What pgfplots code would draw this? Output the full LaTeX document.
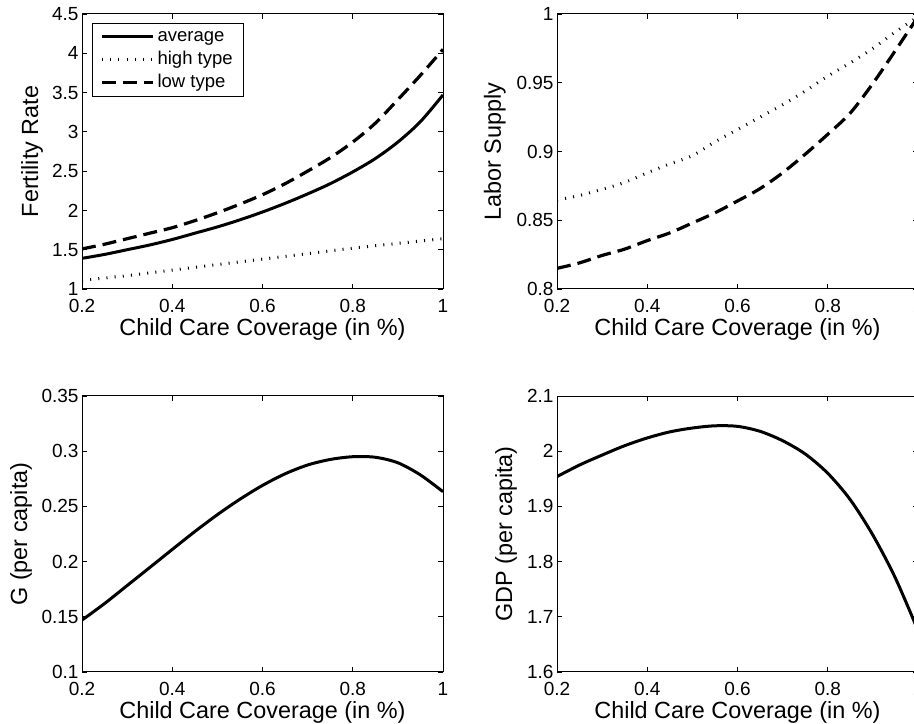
\documentclass[border=0pt]{standalone}
\usepackage{fontspec}
\setmainfont{Liberation Sans}
\usepackage{pgfplots}
\pgfplotsset{compat=1.18}

\pgfplotsset{
  panel/.style={
    scale only axis,
    width=361bp, height=275bp,
    anchor=south west,
    xmin=0.2, xmax=1,
    xtick={0.2,0.4,0.6,0.8,1},
    tick align=inside, tick pos=both,
    major tick length=5bp,
    axis line style={line width=1bp},
    every tick/.style={line width=0.8bp, black},
    /pgf/number format/assume math mode=true,
    tick label style={font=\fontsize{19bp}{22bp}\selectfont},
    xticklabel style={anchor=base, yshift=-24bp},
    label style={font=\fontsize{23.4bp}{28bp}\selectfont},
    xlabel={Child Care Coverage (in \%)},
    xlabel style={at={(axis description cs:0.5,-0.168)}, anchor=base},
  },
  avg/.style={black, line width=3bp},
  hi/.style={black, line width=3bp, dash pattern=on 1bp off 7.2bp},
  lo/.style={black, line width=3.2bp, dash pattern=on 14bp off 7bp},
}

\begin{document}
\begin{tikzpicture}

% Fertility
\begin{axis}[panel, at={(82bp,435bp)},
    ymin=1, ymax=4.5, ytick={1,1.5,...,4.5},
    ylabel={Fertility Rate},
    ylabel style={at={(axis description cs:-0.1385,0.5)}, anchor=center},
    legend cell align=left,
    legend image code/.code={\draw[#1] (0bp,0bp) -- (51bp,0bp);},
    legend style={at={(axis description cs:0,1)}, anchor=north west,
      xshift=10bp, yshift=-9bp, draw=black, line width=0.8bp,
      inner xsep=8bp, inner ysep=2bp,
      font=\fontsize{18.5bp}{22bp}\selectfont,
      nodes={inner sep=3bp, text height=13.5bp, text depth=3.5bp}},
]
\addplot[avg, smooth] coordinates {
  (0.2,1.39) (0.25,1.44) (0.3,1.50) (0.35,1.56) (0.4,1.63) (0.45,1.71)
  (0.5,1.79) (0.55,1.88) (0.6,1.98) (0.65,2.09) (0.7,2.21) (0.75,2.34)
  (0.8,2.49) (0.85,2.66) (0.9,2.87) (0.95,3.13) (1.0,3.47)
};
\addlegendentry{average}
\addplot[hi, smooth] coordinates {
  (0.2,1.11) (0.3,1.17) (0.4,1.24) (0.5,1.31) (0.6,1.38) (0.7,1.45)
  (0.8,1.52) (0.9,1.58) (1.0,1.64)
};
\addlegendentry{high type}
\addplot[lo, smooth] coordinates {
  (0.2,1.51) (0.25,1.57) (0.3,1.64) (0.35,1.71) (0.4,1.78) (0.45,1.87)
  (0.5,1.97) (0.55,2.08) (0.6,2.20) (0.65,2.34) (0.7,2.50) (0.75,2.67)
  (0.8,2.87) (0.85,3.11) (0.9,3.41) (0.95,3.72) (1.0,4.05)
};
\addlegendentry{low type}
\end{axis}

% Labor supply
\begin{axis}[panel, at={(557bp,435bp)},
    ymin=0.8, ymax=1, ytick={0.8,0.85,0.9,0.95,1},
    ylabel={Labor Supply},
    ylabel style={at={(axis description cs:-0.172,0.5)}, anchor=center},
]
\addplot[hi, smooth] coordinates {
  (0.2,0.8647) (0.25,0.868) (0.3,0.8725) (0.35,0.8775) (0.4,0.8845)
  (0.45,0.891) (0.5,0.897) (0.55,0.907) (0.6,0.916) (0.65,0.925)
  (0.7,0.934) (0.75,0.944) (0.8,0.9548) (0.85,0.9645) (0.9,0.975)
  (0.95,0.987) (1.0,0.998)
};
\addplot[lo, smooth] coordinates {
  (0.2,0.815) (0.25,0.819) (0.3,0.8244) (0.35,0.829) (0.4,0.8352)
  (0.45,0.8408) (0.5,0.848) (0.55,0.8554) (0.6,0.864) (0.65,0.873)
  (0.7,0.8845) (0.75,0.898) (0.8,0.9125) (0.85,0.928) (0.9,0.9495)
  (0.95,0.9735) (1.0,0.998)
};
\end{axis}

% G per capita
\begin{axis}[panel, at={(82bp,52bp)}, height=276bp,
    ymin=0.1, ymax=0.35, ytick={0.1,0.15,...,0.36},
    yticklabel style={/pgf/number format/fixed, /pgf/number format/precision=2},
    ylabel={G (per capita)},
    ylabel style={at={(axis description cs:-0.169,0.5)}, anchor=center},
]
\addplot[avg, smooth] coordinates {
  (0.2,0.147) (0.25,0.162) (0.3,0.1783) (0.35,0.1946) (0.4,0.211)
  (0.45,0.2272) (0.5,0.2425) (0.55,0.2565) (0.6,0.269) (0.65,0.2795)
  (0.7,0.2875) (0.75,0.2925) (0.8,0.295) (0.85,0.2945) (0.9,0.2895)
  (0.95,0.2785) (1.0,0.2633)
};
\end{axis}

% GDP per capita
\begin{axis}[panel, at={(557bp,52bp)}, height=276bp,
    ymin=1.6, ymax=2.1, ytick={1.6,1.7,...,2.15},
    ylabel={GDP (per capita)},
    ylabel style={at={(axis description cs:-0.141,0.5)}, anchor=center},
]
\addplot[avg, smooth] coordinates {
  (0.2,1.954) (0.25,1.975) (0.3,1.993) (0.35,2.010) (0.4,2.024)
  (0.45,2.035) (0.5,2.042) (0.55,2.046) (0.6,2.045) (0.65,2.036)
  (0.7,2.019) (0.75,1.995) (0.8,1.960) (0.85,1.912) (0.9,1.848)
  (0.95,1.770) (1.0,1.675)
};
\end{axis}

\pgfresetboundingbox
\useasboundingbox (0bp,0bp) rectangle (914bp,724bp);
\end{tikzpicture}
\end{document}
